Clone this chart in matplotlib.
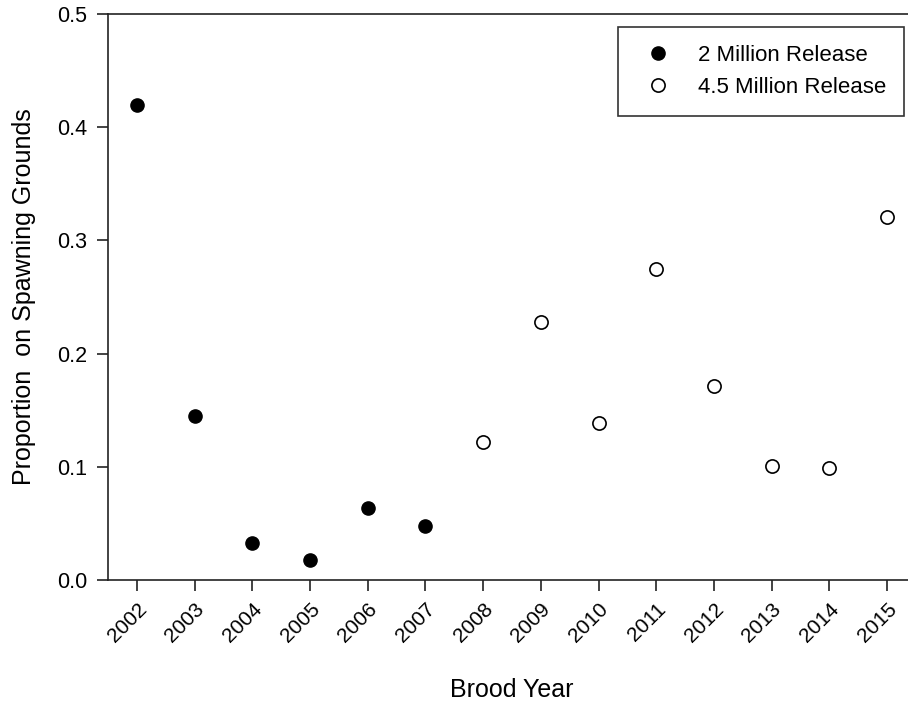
import matplotlib

matplotlib.use("Agg")
import matplotlib.pyplot as plt

plt.rcParams["font.family"] = ["Liberation Sans", "DejaVu Sans"]

years_2m = [2002, 2003, 2004, 2005, 2006, 2007]
prop_2m = [0.420, 0.145, 0.033, 0.018, 0.064, 0.048]
years_45m = [2008, 2009, 2010, 2011, 2012, 2013, 2014, 2015]
prop_45m = [0.122, 0.228, 0.139, 0.275, 0.171, 0.101, 0.099, 0.321]
year_ticks = list(range(2002, 2016))
y_ticks = [0.0, 0.1, 0.2, 0.3, 0.4, 0.5]

fig = plt.figure(figsize=(9.08, 7.02), dpi=100)
ax = fig.add_axes([108 / 908, 122 / 702, 808 / 908, 566 / 702])

ax.plot(years_2m, prop_2m, "o", ms=9.5, color="black", mec="black",
        label="2 Million Release")
ax.plot(years_45m, prop_45m, "o", ms=9.5, mfc="white", mec="black", mew=1.2,
        label="4.5 Million Release")

ax.set_xlim(2001.5, 2015.5)
ax.set_ylim(0, 0.5)
ax.set_xticks(year_ticks)
ax.set_xticklabels([str(y) for y in year_ticks], rotation=45, ha="right",
                   rotation_mode="anchor", fontsize=15)
ax.set_yticks(y_ticks)
ax.set_yticklabels([f"{v:.1f}" for v in y_ticks], fontsize=15.5)
ax.tick_params(direction="out", length=8, width=1.2, color="#222")
ax.tick_params(axis="x", pad=6)
ax.tick_params(axis="y", pad=7)
for s in ax.spines.values():
    s.set_linewidth(1.2)
    s.set_color("#222")

ax.set_xlabel("Brood Year", fontsize=18, labelpad=23)
ax.set_ylabel("Proportion  on Spawning Grounds", fontsize=18, labelpad=15)

leg = ax.legend(loc="upper right", bbox_to_anchor=(904 / 908, 1 - 27 / 702),
                bbox_transform=fig.transFigure, borderaxespad=0, fontsize=16,
                frameon=True, fancybox=False, edgecolor="black",
                handletextpad=0.78, borderpad=0.8, labelspacing=0.5,
                handlelength=2.0)
leg.get_frame().set_linewidth(1.2)

fig.savefig("out.png", dpi=100)
